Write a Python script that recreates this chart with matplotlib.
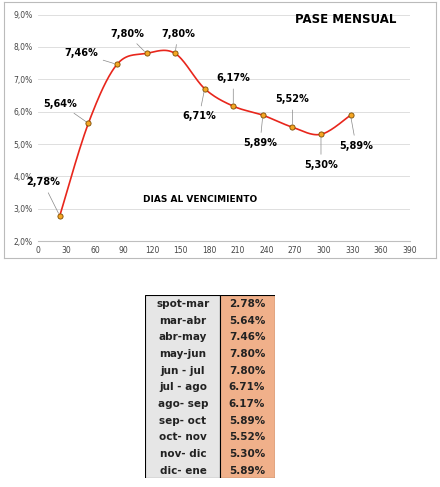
import numpy as np
import matplotlib.pyplot as plt
from matplotlib.ticker import FuncFormatter

dias = [23, 53, 83, 114, 144, 175, 205, 236, 267, 297, 328]
tasas = [2.78, 5.64, 7.46, 7.80, 7.80, 6.71, 6.17, 5.89, 5.52, 5.30, 5.89]
periodos = ["spot-mar", "mar-abr", "abr-may", "may-jun", "jun - jul", "jul - ago",
            "ago- sep", "sep- oct", "oct- nov", "nov- dic", "dic- ene"]
# label offsets in points (dx, dy)
offs = [(-12, 24), (-20, 14), (-26, 8), (-14, 14), (2, 14), (-4, -20),
        (0, 20), (-2, -20), (0, 20), (0, -22), (4, -22)]

fig = plt.figure(figsize=(4.4, 4.87), dpi=100)
frame = fig.add_axes([0.01, 0.47, 0.98, 0.525])
frame.set_xticks([]); frame.set_yticks([])
for s in frame.spines.values():
    s.set_color('#bbbbbb')

ax = fig.add_axes([0.086, 0.505, 0.845, 0.465])
ax.patch.set_alpha(0)

# smooth curve (Catmull-Rom through the points)
x = np.array(dias, float); y = np.array(tasas, float)
xs, ys = [], []
for i in range(len(x) - 1):
    p0 = i - 1 if i > 0 else i
    p3 = i + 2 if i + 2 < len(x) else i + 1
    m1x = (x[i + 1] - x[p0]) / 2; m1y = (y[i + 1] - y[p0]) / 2
    m2x = (x[p3] - x[i]) / 2; m2y = (y[p3] - y[i]) / 2
    t = np.linspace(0, 1, 30)
    h00 = 2*t**3 - 3*t**2 + 1; h10 = t**3 - 2*t**2 + t
    h01 = -2*t**3 + 3*t**2; h11 = t**3 - t**2
    xs.extend(h00*x[i] + h10*m1x + h01*x[i+1] + h11*m2x)
    ys.extend(h00*y[i] + h10*m1y + h01*y[i+1] + h11*m2y)
ax.plot(xs, ys, color='#e8261c', lw=1.2, zorder=2)
ax.scatter(dias, tasas, s=14, color='#f5a623', edgecolor='#7a4a00', lw=0.6, zorder=3)

for xi, yi, v, (dx, dy) in zip(dias, tasas, tasas, offs):
    ax.annotate(f"{v:.2f}%".replace('.', ','), (xi, yi), xytext=(dx, dy),
                textcoords='offset points', ha='center', va='center',
                fontsize=7, fontweight='bold',
                arrowprops=dict(arrowstyle='-', color='#888888', lw=0.5))

ax.set_xlim(0, 390)
ax.set_ylim(2, 9)
ax.set_xticks(range(0, 391, 30))
ax.set_yticks(np.arange(2, 9.01, 1))
ax.yaxis.set_major_formatter(FuncFormatter(lambda v, p: f"{v:.1f}%".replace('.', ',')))
ax.tick_params(labelsize=5.5, length=0, colors='#444444')
ax.grid(axis='y', color='#d9d9d9', lw=0.6)
for s in ['top', 'right', 'left']:
    ax.spines[s].set_visible(False)
ax.spines['bottom'].set_color('#bfbfbf')
ax.text(270, 8.75, "PASE MENSUAL", fontsize=8.5, fontweight='bold')
ax.text(110, 3.2, "DIAS AL VENCIMIENTO", fontsize=6.5, fontweight='bold')

# table
tab = fig.add_axes([145/440, 1 - 478/487, 130/440, 183/487])
tab.set_xlim(0, 130); tab.set_ylim(len(periodos), 0)
tab.axis('off')
tab.add_patch(plt.Rectangle((0, 0), 75, len(periodos), fc='#e6e6e6', ec='black', lw=0.8))
tab.add_patch(plt.Rectangle((75, 0), 55, len(periodos), fc='#f0b08a', ec='black', lw=0.8))
for i, (p, v) in enumerate(zip(periodos, tasas)):
    tab.text(38, i + 0.55, p, ha='center', va='center', fontsize=7.5, fontweight='bold', color='#222222')
    tab.text(102, i + 0.55, f"{v:.2f}%", ha='center', va='center', fontsize=7.5, fontweight='bold', color='#222222')

fig.savefig('out.png', dpi=100)
